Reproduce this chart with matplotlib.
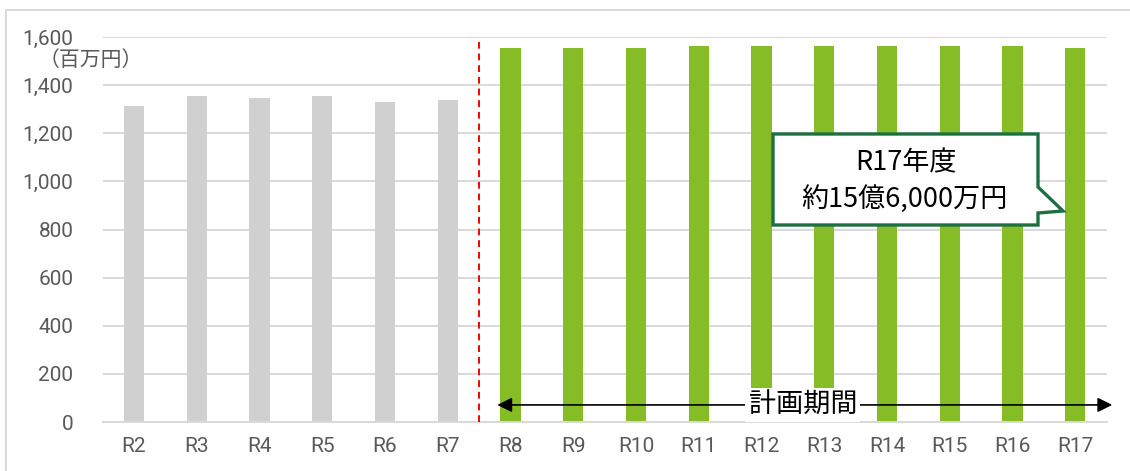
import matplotlib
matplotlib.use("Agg")
import matplotlib.pyplot as plt
from matplotlib.patches import Polygon
from matplotlib.lines import Line2D

# ---- data ----
categories = ['R2', 'R3', 'R4', 'R5', 'R6', 'R7', 'R8', 'R9', 'R10', 'R11',
              'R12', 'R13', 'R14', 'R15', 'R16', 'R17']
actual_values = [1313, 1356, 1348, 1356, 1330, 1338]
plan_values = [1555, 1554, 1554, 1564, 1564, 1564, 1564, 1564, 1564, 1556]
y_ticks = [0, 200, 400, 600, 800, 1000, 1200, 1400, 1600]
unit_label = '（百万円）'
callout_lines = ['R17年度', '約15億6,000万円']
period_label = '計画期間'

plt.rcParams['font.family'] = ['Noto Sans CJK JP', 'DejaVu Sans']

W, H = 1130, 471
fig = plt.figure(figsize=(W / 100, H / 100), dpi=100)
fig.patch.set_facecolor('white')


def fx(px):
    return px / W


def fy(py):
    return 1 - py / H


ax = fig.add_axes([fx(102.6), fy(422), (1106.6 - 102.6) / W, (422 - 37) / H])

n_act = len(actual_values)
x_act = list(range(n_act))
x_plan = list(range(n_act, n_act + len(plan_values)))
ax.bar(x_act, actual_values, width=0.32, color='#D0D0D0', zorder=2)
ax.bar(x_plan, plan_values, width=0.32, color='#86BC25', zorder=2)

ax.set_xlim(-0.5, len(categories) - 0.5)
ax.set_ylim(0, 1600)
ax.set_xticks(range(len(categories)))
ax.set_xticklabels(categories, family='Roboto')
ax.set_yticks(y_ticks)
ax.set_yticklabels([f'{v:,}' for v in y_ticks], family='Roboto')
ax.grid(axis='y', color='#D9D9D9', lw=1.4, zorder=0)
ax.set_axisbelow(True)
for s in ['top', 'right', 'left']:
    ax.spines[s].set_visible(False)
ax.spines['bottom'].set_color('#D9D9D9')
ax.spines['bottom'].set_linewidth(1.4)
ax.tick_params(axis='both', length=0, colors='#595959', labelsize=15)
ax.tick_params(axis='y', pad=21)
ax.tick_params(axis='x', pad=11)

# unit label
fig.text(fx(91), fy(60), unit_label, ha='center', va='center', fontsize=15,
         color='#595959')

# dashed separator between actual and plan
sep = n_act - 0.5
ax.plot([sep, sep], [0, 1592], color='#FF0000', lw=1.4, ls=(0, (3.5, 2.5)),
        zorder=3, clip_on=False)

# double-headed arrow for plan period
arrow_y = 71
ax.annotate('', xy=(5.79, arrow_y), xytext=(15.59, arrow_y),
            xycoords='data', textcoords='data', annotation_clip=False,
            arrowprops=dict(arrowstyle='<|-|>', color='black', lw=1.2,
                            mutation_scale=22, shrinkA=0, shrinkB=0), zorder=4)
ax.text(10.66, arrow_y, period_label, ha='center', va='center', fontsize=19.5,
        color='black', zorder=5,
        bbox=dict(boxstyle='square,pad=0.12', fc='white', ec='none'))

# callout box
pts = [(773, 134), (1038, 134), (1038, 187), (1063, 211), (1038, 213),
       (1038, 225), (773, 225)]
poly = Polygon([(fx(px), fy(py)) for px, py in pts], closed=True,
               transform=fig.transFigure, fc='white', ec='#1D6F42', lw=2.4,
               joinstyle='miter', zorder=10)
fig.patches.append(poly)
fig.text(fx(906), fy(163), callout_lines[0], ha='center', va='center',
         fontsize=19.5, color='black', zorder=11)
fig.text(fx(904), fy(199), callout_lines[1], ha='center', va='center',
         fontsize=19.5, color='black', zorder=11)

# outer chart frame (top and left edges visible)
fig.lines.append(Line2D([fx(6), fx(1131)], [fy(10), fy(10)],
                        transform=fig.transFigure, color='#D9D9D9', lw=1.4))
fig.lines.append(Line2D([fx(6), fx(6)], [fy(10), fy(472)],
                        transform=fig.transFigure, color='#D9D9D9', lw=1.4))

fig.savefig('out.png', dpi=100)
